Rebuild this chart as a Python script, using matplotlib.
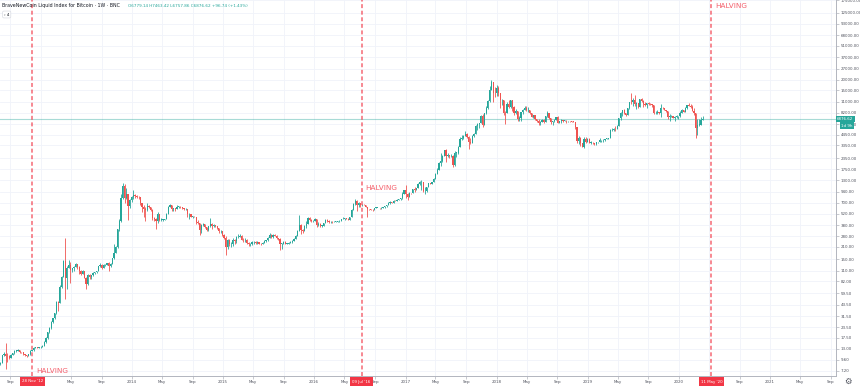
import pandas as pd
import numpy as np
import matplotlib
matplotlib.use('Agg')
import matplotlib.pyplot as plt
import matplotlib.dates as mdates
from matplotlib.ticker import FuncFormatter, NullLocator

# weekly candles, BNC liquid index (USD), weeks starting on Monday
first_week = '2012-07-23'
first_open = 8.5

closes = [
    # 2012
    8.9, 10.9, 11.4, 10.8, 10.6, 10.2, 11.0, 11.5, 12.3, 12.4, 12.5, 11.9, 11.8, 11.3, 10.9, 10.8,
    11.2, 12.3, 12.5, 13.3, 13.5, 13.4, 13.5, 13.7,
    # 2013
    14.1, 15.5, 17.4, 20.4, 23.0, 27.0, 29.9, 34.5, 46.9, 46.0, 71, 93, 142, 90, 119, 127, 112, 117,
    122, 133, 122, 108, 100, 108, 91, 76, 98, 93, 97, 104, 105, 109, 123, 129, 119, 127, 129, 136,
    124, 133, 154, 180, 207, 340, 430, 800, 1100, 800, 880, 640, 760, 820,
    # 2014
    870, 840, 820, 810, 690, 620, 590, 570, 640, 630, 570, 460, 450, 420, 510, 440, 440, 440, 450,
    520, 630, 650, 590, 600, 590, 630, 630, 620, 600, 590, 590, 510, 510, 480, 480, 475, 410, 400,
    330, 380, 390, 360, 330, 370, 390, 370, 380, 370, 350, 320, 320, 290,
    # 2015
    270, 210, 250, 225, 225, 255, 245, 275, 275, 285, 255, 250, 255, 235, 225, 225, 240, 240, 235,
    240, 230, 225, 235, 245, 250, 270, 290, 275, 290, 285, 265, 260, 230, 230, 240, 230, 230, 235,
    240, 245, 260, 285, 325, 385, 330, 325, 370, 390, 460, 440, 420, 430,
    # 2016
    450, 380, 390, 375, 375, 400, 440, 430, 410, 415, 410, 415, 418, 420, 430, 450, 455, 460, 455,
    440, 470, 580, 670, 730, 660, 700, 650, 665, 655, 625, 590, 585, 580, 575, 610, 610, 610, 600,
    615, 620, 640, 655, 700, 710, 700, 735, 730, 765, 770, 790, 890, 1000,
    # 2017
    900, 830, 920, 915, 1020, 1000, 1050, 1170, 1230, 1240, 960, 970, 1080, 1190, 1170, 1240, 1350,
    1550, 1730, 2050, 2200, 2500, 2950, 2500, 2550, 2500, 2500, 1950, 2750, 2750, 3200, 4000, 4050,
    4350, 4600, 4200, 3700, 3600, 4350, 4600, 5700, 6000, 6150, 7400, 5900, 8000, 9300, 11300,
    15200, 19000, 14000, 13900,
    # 2018
    16200, 13800, 11500, 11700, 8200, 8100, 10400, 9600, 11500, 9500, 8200, 8500, 6900, 7000, 8300,
    8900, 9400, 8700, 8700, 8200, 7350, 7650, 6800, 6500, 6100, 6400, 6700, 6400, 7400, 8200, 7000,
    6300, 6500, 6700, 7300, 6200, 6500, 6700, 6600, 6600, 6500, 6500, 6450, 6400, 6350, 5600, 3800,
    4100, 3550, 3200, 4000, 3700, 4000,
    # 2019
    3600, 3600, 3550, 3450, 3650, 3650, 3850, 3850, 3900, 4000, 4000, 4100, 5100, 5100, 5300, 5200,
    5750, 7000, 8100, 8700, 8000, 7700, 9300, 10900, 10800, 11500, 10300, 10600, 9500, 11900, 11300,
    10300, 10100, 10500, 10400, 10300, 10000, 8000, 8200, 8300, 8200, 9300, 9200, 8800, 8500, 7200,
    7400, 7500, 7100, 7300, 7400, 7400,
    # 2020
    8100, 8700, 8350, 9350, 10150, 9900, 9650, 8550, 8050, 5350, 5850, 5900, 6779.14, 6876.62,
]

highs = [
    # 2012
    9.2, 11.0, 11.8, 15.4, 11.6, 11.0, 11.2, 11.7, 12.5, 12.6, 12.9, 12.6, 12.0, 11.9, 11.4, 11.0,
    11.3, 12.5, 12.7, 13.5, 13.7, 13.8, 13.6, 13.9,
    # 2013
    14.3, 15.9, 17.9, 20.6, 23.5, 27.5, 30.4, 34.9, 48.4, 48.6, 74.9, 95, 147, 266, 125, 145, 140,
    119, 124, 134, 133, 123, 111, 113, 110, 92, 99, 99, 98, 106, 107, 110, 124, 136, 130, 130, 133,
    137, 140, 135, 156, 230, 215, 345, 445, 900, 1200, 1160, 1050, 900, 770, 840,
    # 2014
    1000, 900, 860, 840, 830, 700, 650, 620, 700, 650, 630, 590, 480, 460, 540, 510, 460, 450, 455,
    530, 635, 670, 660, 610, 610, 650, 640, 635, 625, 600, 600, 595, 525, 515, 490, 485, 480, 440,
    400, 390, 400, 395, 365, 375, 460, 400, 390, 385, 370, 355, 330, 325,
    # 2015
    300, 280, 260, 260, 240, 265, 260, 280, 295, 300, 290, 270, 265, 260, 240, 235, 245, 245, 245,
    245, 240, 232, 238, 255, 255, 275, 310, 295, 295, 298, 290, 270, 265, 235, 245, 245, 235, 240,
    245, 250, 265, 290, 335, 500, 390, 340, 380, 420, 470, 470, 450, 440,
    # 2016
    460, 450, 410, 400, 380, 405, 445, 445, 440, 420, 420, 420, 425, 425, 432, 452, 470, 465, 462,
    456, 475, 590, 690, 780, 760, 710, 700, 680, 675, 660, 625, 595, 590, 585, 615, 630, 615, 612,
    620, 622, 645, 660, 720, 740, 720, 750, 745, 770, 775, 800, 930, 1000,
    # 2017
    1130, 910, 930, 925, 1030, 1070, 1060, 1200, 1280, 1300, 1250, 1070, 1090, 1200, 1210, 1250,
    1360, 1590, 1790, 2100, 2700, 2600, 2980, 3000, 2750, 2600, 2650, 2550, 2900, 2800, 3300, 4200,
    4500, 4400, 4950, 4700, 4300, 4100, 4400, 4650, 5850, 6200, 6200, 7600, 7850, 8100, 9700, 11400,
    17000, 19800, 19000, 16500,
    # 2018
    17200, 17000, 14000, 12000, 11700, 8600, 10800, 11600, 11700, 11700, 9800, 9100, 8500, 7500, 8400,
    9000, 9800, 9900, 9600, 8800, 8200, 7700, 7750, 6900, 6800, 6500, 6800, 6800, 7500, 8500, 8200,
    7150, 6550, 6800, 7350, 7400, 6600, 6800, 6750, 6700, 6700, 6600, 6550, 6450, 6600, 6400, 5600,
    4300, 4200, 3600, 4200, 4200, 4100,
    # 2019
    4100, 3750, 3650, 3600, 3700, 3700, 4150, 3900, 3950, 4020, 4050, 4150, 5300, 5450, 5400, 5650,
    5850, 7100, 8300, 8800, 9000, 8100, 9400, 11000, 13800, 12300, 13100, 11000, 10600, 12000, 12300,
    11600, 10900, 10700, 10900, 10500, 10350, 10000, 8500, 8700, 8400, 10400, 9550, 9400, 8850, 8500,
    7900, 7700, 7550, 7500, 7600, 7550,
    # 2020
    8450, 9150, 8750, 9550, 10200, 10500, 10250, 9950, 9180, 8150, 6900, 6950, 7200, 7463.42,
]

lows = [
    # 2012
    8.4, 8.8, 10.8, 7.6, 9.2, 9.8, 10.2, 10.9, 11.4, 12.0, 12.2, 11.6, 11.6, 11.1, 10.6, 10.5,
    10.8, 11.1, 12.1, 12.4, 13.2, 13.2, 13.2, 13.4,
    # 2013
    13.5, 14.0, 15.4, 17.1, 19.9, 22.6, 26.6, 29.6, 33.5, 36.6, 45.0, 69, 93, 50, 67, 117, 79, 107,
    109, 121, 116, 100, 98, 99, 89, 66, 75, 87, 87, 94, 101, 103, 108, 120, 114, 118, 124, 128, 110,
    122, 132, 150, 176, 205, 320, 410, 780, 700, 780, 440, 600, 720,
    # 2014
    780, 800, 790, 770, 660, 550, 470, 420, 560, 600, 560, 440, 420, 340, 400, 430, 420, 430, 435,
    445, 520, 620, 560, 560, 560, 590, 610, 610, 595, 570, 580, 480, 450, 470, 460, 470, 395, 390,
    290, 310, 370, 350, 325, 325, 365, 345, 365, 360, 345, 310, 310, 280,
    # 2015
    260, 170, 200, 215, 210, 215, 230, 235, 265, 275, 250, 240, 240, 230, 215, 215, 220, 230, 230,
    230, 225, 220, 225, 235, 240, 245, 265, 270, 270, 280, 260, 255, 195, 200, 225, 225, 225, 225,
    235, 235, 245, 260, 280, 320, 300, 310, 320, 355, 390, 430, 410, 415,
    # 2016
    420, 360, 370, 365, 365, 370, 400, 410, 400, 405, 405, 410, 410, 415, 418, 428, 445, 440, 445,
    435, 438, 470, 575, 660, 560, 620, 630, 645, 650, 620, 480, 575, 570, 565, 570, 600, 600, 595,
    598, 605, 615, 630, 650, 680, 690, 690, 725, 725, 755, 765, 785, 880,
    # 2017
    800, 760, 820, 880, 910, 950, 990, 1040, 1150, 980, 930, 900, 940, 1070, 1160, 1170, 1240, 1350,
    1550, 1700, 1900, 2100, 2500, 2100, 2450, 2350, 2450, 1850, 1920, 2450, 2650, 3200, 3900, 3950,
    4300, 4100, 3000, 3500, 3600, 4200, 4550, 5100, 5400, 6100, 5500, 5900, 7900, 9000, 11000, 15000,
    11000, 12500,
    # 2018
    12800, 12800, 9200, 10000, 7700, 6000, 8000, 9300, 9400, 8500, 7700, 7900, 6600, 6500, 6600, 7900,
    8700, 8600, 8300, 7900, 7200, 7100, 6700, 6300, 5800, 5800, 6300, 6100, 6300, 7300, 6900, 6000,
    5900, 6300, 6700, 6100, 6150, 6200, 6400, 6450, 6200, 6400, 6400, 6300, 6300, 5200, 3600, 3500,
    3300, 3200, 3150, 3600, 3650,
    # 2019
    3550, 3500, 3500, 3400, 3350, 3580, 3650, 3700, 3700, 3800, 3950, 3950, 4100, 4950, 5000, 5000,
    5200, 5700, 6700, 7500, 7800, 7500, 7600, 9000, 10300, 9700, 9900, 9100, 9200, 9500, 11000, 9500,
    9800, 9400, 10200, 9950, 9650, 7800, 7800, 7800, 7900, 7350, 9000, 8700, 8400, 6800, 6500, 7200,
    7050, 6500, 7150, 6900,
    # 2020
    7350, 8050, 8250, 8350, 9150, 9700, 9300, 8450, 7650, 4050, 4450, 5700, 5900, 6757.86,
]

assert len(closes) == len(highs) == len(lows) == 403

halving_dates = ['2012-11-28', '2016-07-09', '2020-05-11']
halving_labels = ["28 Nov '12", "09 Jul '16", "11 May '20"]

price_ticks = [7.2, 9.6, 13, 17.5, 23.5, 31.5, 43.5, 59.5, 82, 110, 150, 210, 280, 380, 520, 700,
               940, 1300, 1750, 2350, 3350, 4450, 6000, 8200, 11000, 15000, 20000, 27000, 37000,
               51000, 68000, 93000, 125000, 175000]

last_price = 6876.62
title = 'BraveNewCoin Liquid Index for Bitcoin \u00b7 1W \u00b7 BNC'
ohlc_text = 'O6779.14 H7463.42 L6757.86 C6876.62 +96.74 (+1.43%)'

up_col = '#26a69a'
down_col = '#ef5350'
red = '#f23645'

dates = pd.date_range(first_week, periods=len(closes), freq='7D')
x = mdates.date2num(dates.to_pydatetime())
c = np.array(closes, dtype=float)
h = np.array(highs, dtype=float)
l = np.array(lows, dtype=float)
o = np.concatenate([[first_open], c[:-1]])
col = np.where(c >= o, up_col, down_col)

fig = plt.figure(figsize=(8.6, 3.86), dpi=100)
ax = fig.add_axes([0, 10 / 386, 836 / 860, 376 / 386])
ax.set_yscale('log')
ax.set_xlim(mdates.date2num(pd.Timestamp('2012-07-21')), mdates.date2num(pd.Timestamp('2021-09-22')))
ax.set_ylim(6.2, 176800)

# candles
ax.vlines(x, l, h, colors=col, linewidth=0.6, zorder=3)
body_lo = np.minimum(o, c)
body_h = np.maximum(np.abs(c - o), body_lo * 0.012)
ax.bar(x, body_h, bottom=body_lo, width=4.8, color=col, linewidth=0, zorder=4)

# last price line
ax.axhline(last_price, color=up_col, alpha=0.4, linewidth=0.8, zorder=2)

# axes styling
ax.yaxis.tick_right()
ax.set_yticks(price_ticks)
ax.yaxis.set_minor_locator(NullLocator())
ax.yaxis.set_major_formatter(FuncFormatter(lambda v, p: '%.2f' % v))
ax.xaxis.set_major_locator(mdates.MonthLocator(bymonth=[1, 5, 9]))
ax.xaxis.set_major_formatter(FuncFormatter(
    lambda v, p: str(mdates.num2date(v).year) if mdates.num2date(v).month == 1 else mdates.num2date(v).strftime('%b')))
ax.tick_params(axis='both', which='major', length=2, width=0.5, color='#b2b5be',
               labelsize=2.85, labelcolor='#50535e', pad=1.2)
ax.grid(True, color='#f0f3fa', linewidth=0.6, zorder=0)
ax.set_axisbelow(True)
for s in ['top', 'left']:
    ax.spines[s].set_visible(False)
for s in ['right', 'bottom']:
    ax.spines[s].set_color('#b2b5be')
    ax.spines[s].set_linewidth(0.7)

# halvings
halving_y = [0.013, 0.5, 0.984]
for d, lab, yy in zip(halving_dates, halving_labels, halving_y):
    xd = mdates.date2num(pd.Timestamp(d))
    ax.axvline(xd, color=red, alpha=0.75, linewidth=1.1, linestyle=(0, (2.6, 1.7)), zorder=5)
    ax.annotate('HALVING', xy=(xd, yy), xycoords=('data', 'axes fraction'), xytext=(4, 0),
                textcoords='offset pixels', ha='left', va='center', fontsize=5.2,
                color=red, alpha=0.8, zorder=6)
    ax.annotate(lab, xy=(xd, 0), xycoords=('data', 'axes fraction'), xytext=(0, -5.5),
                textcoords='offset pixels', ha='center', va='center', fontsize=2.8, color='white',
                bbox=dict(boxstyle='square,pad=0.55', fc=red, ec='none'), annotation_clip=False, zorder=10)

# price labels on the scale
ax.annotate('%.2f' % last_price, xy=(1, last_price), xycoords=('axes fraction', 'data'), xytext=(1, 0),
            textcoords='offset pixels', ha='left', va='center', fontsize=2.9, color='white',
            bbox=dict(boxstyle='square,pad=0.35', fc=up_col, ec='none'), annotation_clip=False, zorder=10)
ax.annotate('1d 9h', xy=(1, last_price), xycoords=('axes fraction', 'data'), xytext=(5, -6.5),
            textcoords='offset pixels', ha='left', va='center', fontsize=2.9, color='white',
            bbox=dict(boxstyle='square,pad=0.35', fc=up_col, ec='none'), annotation_clip=False, zorder=10)

# legend text
fig.text(2 / 860, 1 - 6 / 386, title, fontsize=3.45, color='#131722', va='center', ha='left')
fig.text(128 / 860, 1 - 6 / 386, ohlc_text, fontsize=3.0, color=up_col, va='center', ha='left')
fig.text(4 / 860, 1 - 14.5 / 386, '\u203a 4', fontsize=3.0, color='#131722', va='center', ha='left',
         bbox=dict(boxstyle='round,pad=0.35', fc='white', ec='#d1d4dc', lw=0.4))
fig.text(848 / 860, 1 - 381 / 386, '\u2699', fontsize=6, color='#50535e', va='center', ha='center')

plt.savefig('out.png', dpi=100)
